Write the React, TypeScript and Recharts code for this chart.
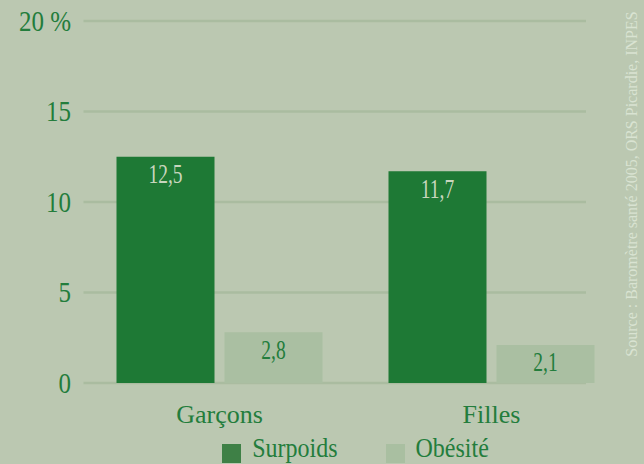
import { BarChart, Bar, XAxis, YAxis, CartesianGrid, Legend, LabelList } from "recharts";

const categories = ["Garçons", "Filles"];
const surpoids = [12.5, 11.7];
const obesite = [2.8, 2.1];
const yTicks = [0, 5, 10, 15, 20];

const BG = "#bbc8b1";
const DARK = "#1e7935";
const LIGHT = "#aabfa2";
const TEXT = "#237d3c";
const FONT = "'Liberation Serif', 'Times New Roman', serif";

const data = categories.map((name, i) => ({
  name,
  surpoids: surpoids[i],
  obesite: obesite[i],
}));

const fmt = (v: number) => String(v).replace(".", ",");

// value printed just under the top edge of each bar (narrow, tall glyphs like the original)
const barLabel = (color: string) => (props: any) => {
  const { x, y, width, value } = props;
  return (
    <text
      transform={`translate(${x + width / 2} ${y + 26.5}) scale(1 1.4)`}
      textAnchor="middle"
      fill={color}
      fontSize={19.5}
      fontFamily={FONT}
    >
      {fmt(value)}
    </text>
  );
};

const YTick = (props: any) => {
  const { x, y, payload } = props;
  const v = payload.value;
  return (
    <text
      transform={`translate(${x - 12.5} ${y + 9.5}) scale(1 1.15)`}
      textAnchor="end"
      fill={TEXT}
      fontSize={25}
      fontFamily={FONT}
    >
      {v === 20 ? "20 %" : v}
    </text>
  );
};

const XTick = (props: any) => {
  const { x, y, payload } = props;
  return (
    <text x={x} y={y + 40} textAnchor="middle" fill={TEXT} fontSize={26} fontFamily={FONT}>
      {payload.value}
    </text>
  );
};

const GridLine = (props: any) => {
  const { x1, y1, y2 } = props;
  return <line x1={x1} x2={586} y1={y1} y2={y2} stroke="#aabca0" strokeWidth={2.5} />;
};

const LegendContent = () => {
  const items = [
    { label: "Surpoids", color: "#3e8046" },
    { label: "Obésité", color: "#a9bfa1" },
  ];
  return (
    <div style={{ display: "flex", justifyContent: "center", fontFamily: FONT }}>
      {items.map((it, i) => (
        <div key={it.label} style={{ display: "flex", alignItems: "flex-start", marginLeft: i ? 48 : 0 }}>
          <div style={{ width: 19, height: 19, marginTop: 8, background: it.color }} />
          <span
            style={{
              marginLeft: 11,
              fontSize: 24,
              lineHeight: "26px",
              color: TEXT,
              display: "inline-block",
              transform: "scaleY(1.18)",
              transformOrigin: "50% 82%",
            }}
          >
            {it.label}
          </span>
        </div>
      ))}
    </div>
  );
};

export default function App() {
  return (
    <div style={{ position: "absolute", left: 0, top: 0, width: 644, height: 464, background: BG, overflow: "hidden" }}>
      <BarChart
        width={644}
        height={464}
        data={data}
        margin={{ top: 21, right: 16.5, bottom: 51, left: 0 }}
        barSize={98}
        barGap={10}
      >
        <CartesianGrid vertical={false} horizontal={GridLine as any} />
        <XAxis dataKey="name" height={30} axisLine={false} tickLine={false} tickSize={0} tickMargin={0} tick={<XTick />} />
        <YAxis
          width={83.5}
          domain={[0, 20]}
          ticks={yTicks}
          axisLine={false}
          tickLine={false}
          tickSize={0}
          tickMargin={0}
          tick={<YTick />}
        />
        <Legend
          verticalAlign="middle"
          content={<LegendContent />}
          wrapperStyle={{ top: 436, left: 83.5, width: 544 }}
        />
        <Bar dataKey="surpoids" name="Surpoids" fill={DARK} isAnimationActive={false}>
          <LabelList dataKey="surpoids" content={barLabel("#c8d6be")} />
        </Bar>
        <Bar dataKey="obesite" name="Obésité" fill={LIGHT} isAnimationActive={false}>
          <LabelList dataKey="obesite" content={barLabel(TEXT)} />
        </Bar>
      </BarChart>
      <svg width={644} height={464} style={{ position: "absolute", left: 0, top: 0, pointerEvents: "none" }}>
        <text
          transform="translate(631 184) rotate(-90)"
          textAnchor="middle"
          dominantBaseline="central"
          fill="#d9e3d2"
          fontSize={16}
          fontFamily={FONT}
        >
          Source : Baromètre santé 2005, ORS Picardie, INPES
        </text>
      </svg>
    </div>
  );
}
